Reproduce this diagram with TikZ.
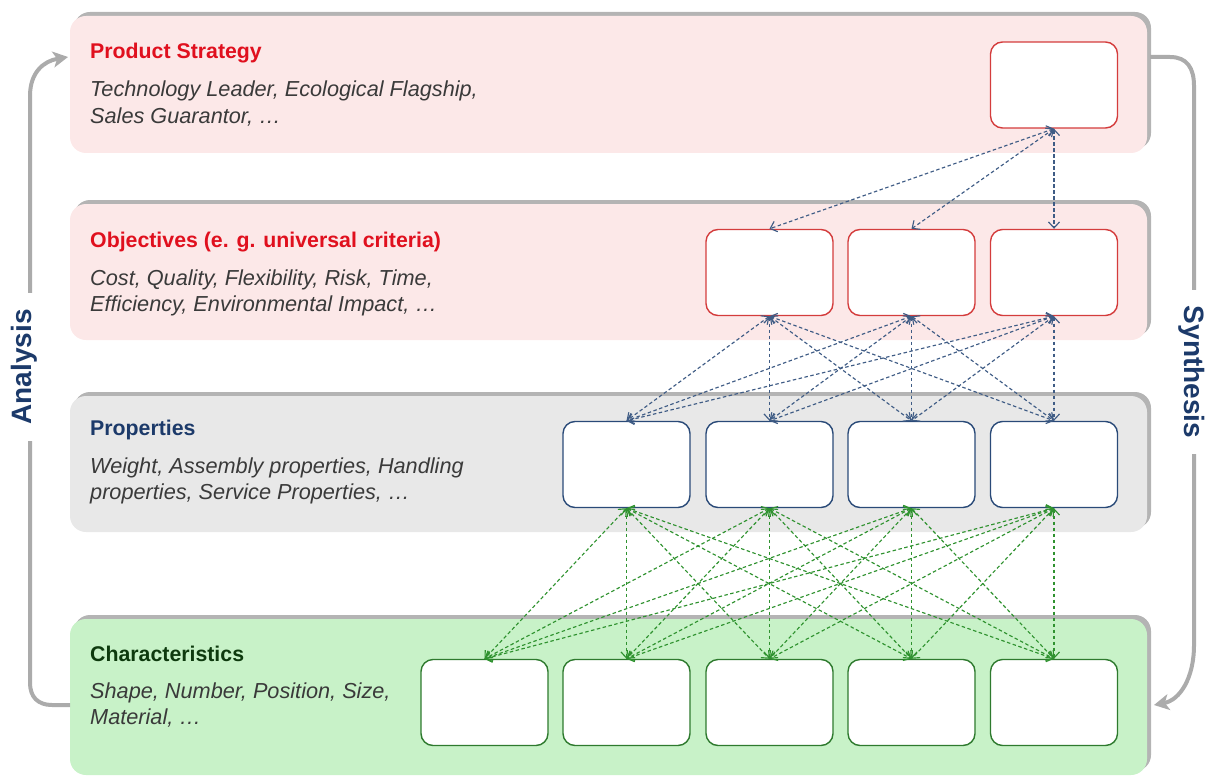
\documentclass[tikz,border=0pt]{standalone}
\usepackage{fontspec}
\setmainfont{Liberation Sans}
\usetikzlibrary{arrows.meta,shadows}
\definecolor{pinkband}{HTML}{FCE8E8}
\definecolor{grayband}{HTML}{E8E8E8}
\definecolor{greenband}{HTML}{C8F2C8}
\definecolor{shadowgray}{HTML}{B4B4B4}
\definecolor{titlered}{HTML}{E0101E}
\definecolor{navy}{HTML}{1C3A6A}
\definecolor{darkgreen}{HTML}{0E3A0E}
\definecolor{bodygray}{HTML}{3A3A3A}
\definecolor{boxred}{HTML}{D43C3C}
\definecolor{boxnavy}{HTML}{2A4A78}
\definecolor{boxgreen}{HTML}{2E7A2E}
\definecolor{linknavy}{HTML}{3F5C85}
\definecolor{linkgreen}{HTML}{2F922F}
\definecolor{sidegray}{HTML}{ABABAB}
\begin{document}
\begin{tikzpicture}[x=1pt,y=-1pt,
  band/.style={rectangle, rounded corners=16pt, minimum width=1077pt, inner sep=0pt, draw=none,
    drop shadow={shadow xshift=4pt, shadow yshift=4pt, opacity=1, fill=shadowgray}},
  cell/.style={rectangle, rounded corners=12pt, minimum width=127pt, minimum height=86pt, inner sep=0pt, fill=white, line width=1.4pt},
  title/.style={anchor=base west, inner sep=0pt, font=\fontsize{21.3}{25}\selectfont\bfseries},
  body/.style={anchor=base west, inner sep=0pt, text=bodygray, font=\fontsize{21.7}{26}\selectfont\itshape},
  link/.style={line width=1.15pt, dash pattern=on 3.5pt off 2.5pt,
    arrows={Straight Barb[length=6pt,width=11pt]-Straight Barb[length=6pt,width=11pt]}},
  sideline/.style={draw=sidegray, line width=4pt, -{Stealth[length=15pt,width=16pt,inset=4pt]}},
  sidelabel/.style={fill=white, text=navy, inner xsep=16pt, inner ysep=3pt, font=\fontsize{28}{30}\selectfont\bfseries}
]
\useasboundingbox (0,0) rectangle (1214,778);

% bands
\node[band, fill=pinkband, minimum height=137pt] (b1) at (608.5,84.5) {};
\node[band, fill=pinkband, minimum height=136pt] (b2) at (608.5,272) {};
\node[band, fill=grayband, minimum height=136pt] (b3) at (608.5,464) {};
\node[band, fill=greenband, minimum height=156pt] (b4) at (608.5,697) {};

% texts
\node[title, text=titlered] (t1) at (90,59) {Product Strategy};
\node[body] (t1a) at (90,97) {Technology Leader, Ecological Flagship,};
\node[body] (t1b) at (90,124) {Sales Guarantor, …};

\node[title, text=titlered] (t2) at (90,247) {Objectives (e. g. universal criteria)};
\node[body] (t2a) at (90,285) {Cost, Quality, Flexibility, Risk, Time,};
\node[body] (t2b) at (90,311) {Efficiency, Environmental Impact, …};

\node[title, text=navy] (t3) at (90,435) {Properties};
\node[body] (t3a) at (90,473) {Weight, Assembly properties, Handling};
\node[body] (t3b) at (90,499) {properties, Service Properties, …};

\node[title, text=darkgreen] (t4) at (90,661) {Characteristics};
\node[body] (t4a) at (90,698) {Shape, Number, Position, Size,};
\node[body] (t4b) at (90,724) {Material, …};

% boxes
\node[cell, draw=boxred] (ps) at (1054,85) {};
\node[cell, draw=boxred] (o1) at (769.5,272.5) {};
\node[cell, draw=boxred] (o2) at (911.5,272.5) {};
\node[cell, draw=boxred] (o3) at (1054,272.5) {};
\node[cell, draw=boxnavy] (p1) at (626.5,464.5) {};
\node[cell, draw=boxnavy] (p2) at (769.5,464.5) {};
\node[cell, draw=boxnavy] (p3) at (911.5,464.5) {};
\node[cell, draw=boxnavy] (p4) at (1054,464.5) {};
\node[cell, draw=boxgreen] (c1) at (484.5,702.5) {};
\node[cell, draw=boxgreen] (c2) at (626.5,702.5) {};
\node[cell, draw=boxgreen] (c3) at (769.5,702.5) {};
\node[cell, draw=boxgreen] (c4) at (911.5,702.5) {};
\node[cell, draw=boxgreen] (c5) at (1054,702.5) {};

% links
\foreach \o in {1,2,3} {
  \draw[link, draw=linknavy] (ps.south) -- (o\o.north);
}
\foreach \o in {1,2,3} {
  \foreach \p in {1,2,3,4} {
    \draw[link, draw=linknavy] (o\o.south) -- (p\p.north);
  }
}
\foreach \p in {1,2,3,4} {
  \foreach \c in {1,2,3,4,5} {
    \draw[link, draw=linkgreen] (p\p.south) -- (c\c.north);
  }
}

% side arrows
\coordinate (aS) at (70,705);
\coordinate (aE) at (68,57);
\coordinate (sS) at (1150,57);
\coordinate (sE) at (1154,705);
\draw[sideline] (aS) -- (52,705) .. controls (38,705) and (30,697) .. (30,683) -- (30,96) .. controls (30,72) and (44,61) .. (aE);
\draw[sideline] (sS) -- (1170,57) .. controls (1187,57) and (1194,68) .. (1194,86) -- (1194,645) .. controls (1194,678) and (1180,700) .. (sE);
\node[sidelabel, rotate=90] (an) at (24,367) {Analysis};
\node[sidelabel, rotate=-90] (sy) at (1192,372) {Synthesis};
\end{tikzpicture}
\end{document}
